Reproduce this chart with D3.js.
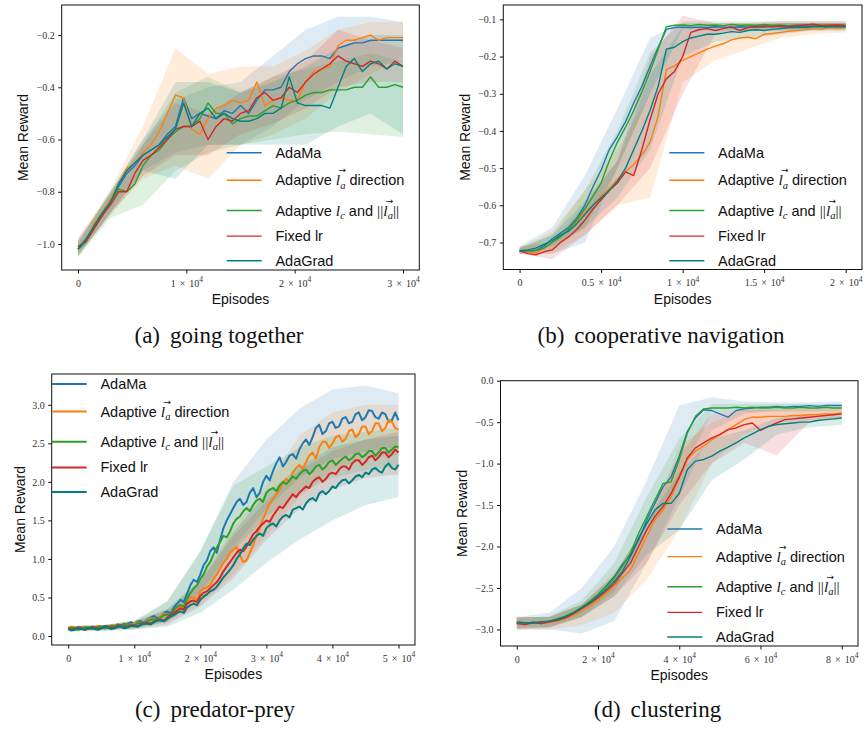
<!DOCTYPE html>
<html>
<head>
<meta charset="utf-8">
<script src="https://d3js.org/d3.v7.min.js"></script>
<style>
  body { margin: 0; background: #fff; }
</style>
</head>
<body>
<script>
// ---------- data ----------
// method colours, in legend order
const colors = ["#1f77b4", "#ff7f0e", "#2ca02c", "#d62728", "#008080"];

// legend labels, split in plain text and math parts
const legendLabels = [
  [{t: "AdaMa"}],
  [{t: "Adaptive "}, {m: "l", sub: "a", vec: true}, {t: " direction"}],
  [{t: "Adaptive "}, {m: "l", sub: "c"}, {t: " and "}, {m: "||"}, {m: "l", sub: "a", vec: true}, {m: "||"}],
  [{t: "Fixed lr"}],
  [{t: "AdaGrad"}]
];

// (a) going together: episodes 0..30000 every 750
const aStep = 750, aMax = 30000;
const aAdaMa     = [-1.02,-0.99,-0.93,-0.89,-0.84,-0.78,-0.73,-0.70,-0.66,-0.64,-0.62,-0.58,-0.55,-0.44,-0.52,-0.50,-0.51,-0.52,-0.49,-0.50,-0.47,-0.50,-0.45,-0.41,-0.41,-0.40,-0.34,-0.31,-0.29,-0.28,-0.28,-0.29,-0.25,-0.24,-0.23,-0.23,-0.22,-0.22,-0.22,-0.22,-0.22];
const aDirection = [-1.01,-0.99,-0.92,-0.88,-0.83,-0.77,-0.71,-0.69,-0.65,-0.62,-0.57,-0.50,-0.43,-0.44,-0.56,-0.58,-0.52,-0.48,-0.47,-0.45,-0.46,-0.45,-0.38,-0.47,-0.45,-0.44,-0.45,-0.45,-0.38,-0.34,-0.33,-0.32,-0.24,-0.22,-0.22,-0.21,-0.20,-0.22,-0.21,-0.21,-0.21];
const aMagnitude = [-1.02,-0.99,-0.94,-0.89,-0.84,-0.79,-0.80,-0.77,-0.70,-0.66,-0.64,-0.60,-0.57,-0.55,-0.55,-0.52,-0.46,-0.50,-0.50,-0.54,-0.52,-0.51,-0.51,-0.49,-0.47,-0.48,-0.46,-0.45,-0.43,-0.42,-0.42,-0.41,-0.41,-0.41,-0.40,-0.40,-0.36,-0.40,-0.40,-0.39,-0.40];
const aFixed     = [-1.01,-0.99,-0.94,-0.89,-0.85,-0.80,-0.80,-0.73,-0.68,-0.66,-0.63,-0.60,-0.56,-0.55,-0.55,-0.53,-0.60,-0.55,-0.52,-0.53,-0.50,-0.49,-0.44,-0.42,-0.45,-0.44,-0.40,-0.42,-0.38,-0.35,-0.33,-0.31,-0.28,-0.30,-0.31,-0.32,-0.30,-0.31,-0.33,-0.30,-0.32];
const aAdaGrad   = [-1.02,-0.98,-0.93,-0.88,-0.84,-0.77,-0.72,-0.69,-0.66,-0.64,-0.62,-0.59,-0.56,-0.46,-0.55,-0.50,-0.48,-0.52,-0.50,-0.52,-0.53,-0.53,-0.52,-0.50,-0.50,-0.48,-0.36,-0.46,-0.47,-0.47,-0.47,-0.48,-0.40,-0.32,-0.29,-0.34,-0.31,-0.30,-0.33,-0.31,-0.32];
// spread bands every 3000 episodes
const aBandStep = 3000;
const aLo = [
  [-1.04,-0.88,-0.72,-0.65,-0.62,-0.62,-0.55,-0.45,-0.38,-0.32,-0.30],
  [-1.05,-0.88,-0.75,-0.70,-0.75,-0.62,-0.58,-0.52,-0.42,-0.35,-0.28],
  [-1.05,-0.90,-0.85,-0.72,-0.65,-0.62,-0.60,-0.58,-0.57,-0.58,-0.59],
  [-1.04,-0.89,-0.74,-0.66,-0.66,-0.58,-0.54,-0.48,-0.40,-0.38,-0.38],
  [-1.05,-0.88,-0.72,-0.75,-0.62,-0.62,-0.62,-0.62,-0.55,-0.50,-0.58]
];
const aHi = [
  [-1.00,-0.80,-0.60,-0.45,-0.40,-0.38,-0.28,-0.18,-0.13,-0.13,-0.15],
  [-0.98,-0.79,-0.55,-0.25,-0.35,-0.32,-0.32,-0.26,-0.18,-0.15,-0.15],
  [-0.99,-0.80,-0.62,-0.42,-0.36,-0.42,-0.36,-0.33,-0.30,-0.27,-0.30],
  [-0.98,-0.81,-0.62,-0.46,-0.50,-0.42,-0.36,-0.30,-0.18,-0.22,-0.25],
  [-0.99,-0.80,-0.60,-0.38,-0.38,-0.42,-0.38,-0.32,-0.25,-0.20,-0.20]
];
const aXTicks = [0, 10000, 20000, 30000];
const aYTicks = [-1.0, -0.8, -0.6, -0.4, -0.2];

// (b) cooperative navigation: episodes 0..20000 every 500
const bStep = 500, bMax = 20000;
const bAdaMa     = [-0.722,-0.722,-0.721,-0.71,-0.69,-0.675,-0.66,-0.635,-0.60,-0.55,-0.505,-0.45,-0.415,-0.375,-0.325,-0.28,-0.227,-0.175,-0.127,-0.122,-0.121,-0.122,-0.121,-0.122,-0.120,-0.121,-0.122,-0.120,-0.121,-0.120,-0.121,-0.119,-0.120,-0.121,-0.119,-0.120,-0.118,-0.119,-0.120,-0.118,-0.119];
const bDirection = [-0.722,-0.725,-0.728,-0.715,-0.70,-0.685,-0.668,-0.645,-0.62,-0.60,-0.575,-0.555,-0.53,-0.51,-0.49,-0.465,-0.43,-0.36,-0.235,-0.225,-0.21,-0.20,-0.19,-0.18,-0.172,-0.165,-0.155,-0.15,-0.148,-0.152,-0.14,-0.138,-0.135,-0.132,-0.13,-0.128,-0.125,-0.127,-0.122,-0.124,-0.122];
const bMagnitude = [-0.722,-0.723,-0.722,-0.715,-0.70,-0.685,-0.665,-0.64,-0.61,-0.575,-0.54,-0.48,-0.43,-0.39,-0.345,-0.295,-0.24,-0.18,-0.12,-0.116,-0.115,-0.117,-0.114,-0.116,-0.115,-0.117,-0.114,-0.116,-0.115,-0.116,-0.114,-0.116,-0.115,-0.117,-0.115,-0.116,-0.114,-0.115,-0.116,-0.115,-0.116];
const bFixed     = [-0.722,-0.73,-0.733,-0.725,-0.72,-0.70,-0.685,-0.665,-0.64,-0.61,-0.585,-0.56,-0.54,-0.51,-0.52,-0.45,-0.37,-0.30,-0.26,-0.24,-0.20,-0.135,-0.128,-0.125,-0.13,-0.125,-0.12,-0.13,-0.122,-0.12,-0.118,-0.12,-0.118,-0.12,-0.117,-0.115,-0.113,-0.117,-0.116,-0.115,-0.117];
const bAdaGrad   = [-0.722,-0.72,-0.715,-0.705,-0.695,-0.68,-0.67,-0.65,-0.625,-0.60,-0.58,-0.56,-0.535,-0.50,-0.45,-0.40,-0.345,-0.28,-0.18,-0.175,-0.16,-0.15,-0.145,-0.14,-0.14,-0.137,-0.133,-0.135,-0.13,-0.128,-0.13,-0.127,-0.125,-0.123,-0.122,-0.122,-0.12,-0.12,-0.12,-0.12,-0.12];
const bBandStep = 2000;
const bLo = [
  [-0.73,-0.73,-0.70,-0.50,-0.30,-0.13,-0.13,-0.13,-0.13,-0.13,-0.13],
  [-0.73,-0.73,-0.68,-0.60,-0.58,-0.27,-0.21,-0.18,-0.15,-0.14,-0.135],
  [-0.73,-0.72,-0.66,-0.50,-0.30,-0.125,-0.125,-0.125,-0.125,-0.125,-0.125],
  [-0.73,-0.745,-0.68,-0.60,-0.50,-0.30,-0.14,-0.13,-0.13,-0.125,-0.125],
  [-0.73,-0.71,-0.66,-0.58,-0.45,-0.20,-0.16,-0.15,-0.14,-0.13,-0.13]
];
const bHi = [
  [-0.71,-0.66,-0.52,-0.34,-0.15,-0.11,-0.11,-0.11,-0.11,-0.11,-0.11],
  [-0.715,-0.67,-0.56,-0.45,-0.30,-0.13,-0.13,-0.12,-0.11,-0.11,-0.11],
  [-0.715,-0.68,-0.56,-0.40,-0.19,-0.105,-0.105,-0.105,-0.105,-0.105,-0.105],
  [-0.71,-0.70,-0.60,-0.48,-0.20,-0.09,-0.11,-0.11,-0.105,-0.105,-0.105],
  [-0.715,-0.68,-0.59,-0.48,-0.25,-0.12,-0.12,-0.115,-0.11,-0.11,-0.11]
];
const bXTicks = [0, 5000, 10000, 15000, 20000];
const bYTicks = [-0.7, -0.6, -0.5, -0.4, -0.3, -0.2, -0.1];

// (c) predator-prey: episodes 0..50000 every 500
const cStep = 500, cMax = 50000;
const cAdaMa = [
  0.10,0.08,0.09,0.11,0.11,0.09,0.10,0.12,0.12,0.10, 0.11,0.13,0.13,0.11,0.12,0.15,0.14,0.13,0.16,0.18,
  0.15,0.19,0.19,0.17,0.21,0.24,0.26,0.23,0.25,0.30, 0.32,0.29,0.37,0.42,0.47,0.44,0.55,0.66,0.73,0.70,
  0.80,0.92,0.98,1.10,1.15,1.08,1.25,1.40,1.50,1.58, 1.66,1.74,1.78,1.70,1.74,1.86,1.92,1.80,1.86,2.00,
  2.08,2.02,2.14,2.24,2.32,2.20,2.26,2.34,2.36,2.30, 2.42,2.50,2.55,2.48,2.58,2.70,2.74,2.62,2.66,2.76,
  2.78,2.70,2.72,2.82,2.84,2.76,2.78,2.88,2.90,2.80, 2.84,2.93,2.92,2.84,2.82,2.90,2.88,2.78,2.80,2.90, 2.80];
const cDirection = [
  0.10,0.12,0.11,0.09,0.10,0.12,0.12,0.10,0.11,0.13, 0.13,0.11,0.12,0.14,0.14,0.12,0.13,0.16,0.15,0.14,
  0.16,0.18,0.17,0.16,0.20,0.23,0.22,0.20,0.26,0.29, 0.28,0.26,0.33,0.36,0.38,0.36,0.46,0.50,0.50,0.47,
  0.58,0.62,0.63,0.66,0.74,0.80,0.88,0.95,1.00,1.08, 1.12,1.16,1.05,0.96,0.98,1.08,1.18,1.30,1.40,1.52,
  1.62,1.72,1.78,1.84,1.90,1.98,2.04,2.00,2.12,2.18, 2.22,2.16,2.26,2.34,2.38,2.30,2.45,2.52,2.52,2.44,
  2.50,2.58,2.60,2.52,2.56,2.66,2.68,2.58,2.62,2.72, 2.72,2.62,2.66,2.76,2.76,2.66,2.70,2.80,2.78,2.70, 2.68];
const cMagnitude = [
  0.09,0.11,0.10,0.08,0.09,0.11,0.11,0.09,0.10,0.12, 0.12,0.10,0.11,0.13,0.13,0.12,0.14,0.16,0.15,0.13,
  0.14,0.17,0.17,0.16,0.19,0.21,0.22,0.20,0.24,0.27, 0.28,0.27,0.34,0.38,0.40,0.38,0.48,0.56,0.62,0.66,
  0.74,0.80,0.90,0.96,1.06,1.15,1.22,1.30,1.28,1.36, 1.46,1.52,1.55,1.62,1.66,1.62,1.70,1.76,1.78,1.74,
  1.86,1.90,1.92,1.88,1.95,2.00,1.97,2.02,2.07,2.04, 2.10,2.14,2.16,2.10,2.14,2.20,2.22,2.16,2.20,2.26,
  2.28,2.22,2.26,2.30,2.33,2.28,2.31,2.36,2.37,2.32, 2.35,2.40,2.40,2.34,2.38,2.44,2.44,2.38,2.42,2.46, 2.45];
const cFixed = [
  0.10,0.08,0.09,0.11,0.10,0.08,0.09,0.11,0.11,0.09, 0.10,0.12,0.12,0.10,0.11,0.13,0.13,0.11,0.12,0.14,
  0.14,0.13,0.15,0.17,0.17,0.16,0.19,0.21,0.21,0.20, 0.24,0.27,0.30,0.33,0.36,0.34,0.42,0.45,0.46,0.44,
  0.52,0.56,0.58,0.62,0.66,0.70,0.76,0.84,0.90,0.96, 1.02,1.08,1.12,1.10,1.16,1.24,1.32,1.36,1.42,1.46,
  1.50,1.48,1.56,1.62,1.68,1.66,1.72,1.78,1.84,1.80, 1.86,1.90,1.94,1.92,2.00,2.04,2.06,2.00,2.04,2.10,
  2.12,2.10,2.16,2.20,2.20,2.16,2.24,2.28,2.28,2.22, 2.26,2.32,2.34,2.28,2.32,2.38,2.38,2.32,2.36,2.42, 2.38];
const cAdaGrad = [
  0.09,0.07,0.08,0.10,0.09,0.08,0.10,0.11,0.09,0.08, 0.10,0.12,0.11,0.09,0.10,0.12,0.12,0.10,0.11,0.13,
  0.13,0.12,0.14,0.16,0.16,0.15,0.18,0.20,0.20,0.19, 0.22,0.25,0.27,0.30,0.32,0.30,0.37,0.40,0.42,0.40,
  0.47,0.51,0.54,0.58,0.60,0.64,0.70,0.76,0.81,0.86, 0.92,1.00,1.06,1.14,1.20,1.18,1.25,1.30,1.33,1.30,
  1.40,1.44,1.46,1.42,1.50,1.55,1.57,1.54,1.64,1.66, 1.68,1.64,1.72,1.77,1.79,1.75,1.85,1.88,1.84,1.88,
  1.94,1.92,1.98,2.02,2.03,1.98,2.02,2.07,2.09,2.06, 2.12,2.10,2.16,2.18,2.14,2.12,2.20,2.24,2.18,2.16, 2.22];
const cBandStep = 5000;
const cLo = [
  [0.07,0.08,0.10,0.20,0.55,1.15,1.65,2.05,2.30,2.40,2.45],
  [0.07,0.08,0.10,0.18,0.40,0.80,1.30,1.80,2.15,2.30,2.35],
  [0.07,0.08,0.10,0.18,0.50,1.10,1.55,1.85,2.05,2.15,2.20],
  [0.07,0.07,0.09,0.15,0.38,0.75,1.25,1.65,1.90,2.05,2.10],
  [0.06,0.06,0.08,0.12,0.30,0.60,0.95,1.25,1.50,1.70,1.80]
];
const cHi = [
  [0.13,0.14,0.20,0.45,1.10,2.00,2.55,2.95,3.20,3.25,3.15],
  [0.13,0.14,0.20,0.35,0.75,1.40,1.95,2.60,2.90,3.00,3.00],
  [0.13,0.14,0.18,0.45,1.10,1.95,2.20,2.45,2.60,2.65,2.70],
  [0.13,0.13,0.19,0.32,0.70,1.30,1.75,2.15,2.40,2.55,2.65],
  [0.12,0.13,0.18,0.35,0.72,1.35,1.85,2.20,2.45,2.55,2.60]
];
const cXTicks = [0, 10000, 20000, 30000, 40000, 50000];
const cYTicks = [0.0, 0.5, 1.0, 1.5, 2.0, 2.5, 3.0];

// (d) clustering: episodes 0..80000 every 2000
const dStep = 2000, dMax = 80000;
const dAdaMa     = [-2.92,-2.94,-2.91,-2.93,-2.90,-2.88,-2.84,-2.80,-2.74,-2.67,-2.58,-2.48,-2.36,-2.22,-2.10,-1.92,-1.68,-1.48,-1.28,-1.16,-0.91,-0.61,-0.45,-0.35,-0.36,-0.40,-0.44,-0.36,-0.34,-0.33,-0.32,-0.32,-0.31,-0.32,-0.31,-0.31,-0.30,-0.31,-0.30,-0.30,-0.30];
const dDirection = [-2.92,-2.93,-2.92,-2.92,-2.91,-2.90,-2.87,-2.83,-2.78,-2.72,-2.65,-2.57,-2.48,-2.38,-2.28,-2.08,-1.88,-1.68,-1.56,-1.40,-1.18,-0.95,-0.85,-0.79,-0.71,-0.65,-0.59,-0.53,-0.47,-0.44,-0.44,-0.43,-0.43,-0.43,-0.42,-0.42,-0.41,-0.41,-0.40,-0.40,-0.39];
const dMagnitude = [-2.92,-2.93,-2.92,-2.91,-2.90,-2.87,-2.84,-2.79,-2.73,-2.66,-2.58,-2.49,-2.38,-2.24,-2.08,-1.84,-1.64,-1.44,-1.24,-1.22,-0.95,-0.63,-0.43,-0.34,-0.33,-0.33,-0.33,-0.32,-0.33,-0.32,-0.33,-0.33,-0.32,-0.33,-0.33,-0.32,-0.33,-0.33,-0.32,-0.33,-0.33];
const dFixed     = [-2.93,-2.94,-2.92,-2.93,-2.91,-2.89,-2.86,-2.81,-2.75,-2.69,-2.62,-2.54,-2.45,-2.32,-2.20,-2.00,-1.80,-1.64,-1.52,-1.36,-1.16,-0.93,-0.81,-0.75,-0.69,-0.65,-0.59,-0.57,-0.53,-0.51,-0.60,-0.55,-0.51,-0.47,-0.46,-0.45,-0.44,-0.43,-0.42,-0.41,-0.40];
const dAdaGrad   = [-2.91,-2.92,-2.92,-2.91,-2.90,-2.88,-2.85,-2.80,-2.74,-2.68,-2.60,-2.52,-2.42,-2.30,-2.12,-1.90,-1.72,-1.56,-1.48,-1.48,-1.36,-1.07,-0.97,-0.95,-0.91,-0.85,-0.80,-0.75,-0.69,-0.64,-0.59,-0.55,-0.53,-0.52,-0.51,-0.50,-0.50,-0.48,-0.47,-0.46,-0.45];
const dBandStep = 8000;
const dLo = [
  [-3.00,-3.00,-3.05,-2.90,-2.20,-1.40,-0.60,-0.40,-0.36,-0.36,-0.35],
  [-3.00,-3.00,-2.95,-2.80,-2.40,-1.80,-1.00,-0.65,-0.50,-0.48,-0.46],
  [-2.98,-2.97,-2.85,-2.55,-1.80,-1.20,-0.38,-0.37,-0.37,-0.37,-0.37],
  [-3.00,-2.98,-2.85,-2.60,-2.20,-1.50,-1.00,-0.75,-0.90,-0.50,-0.46],
  [-2.98,-2.97,-2.85,-2.60,-2.10,-1.80,-1.20,-0.95,-0.65,-0.56,-0.53]
];
const dHi = [
  [-2.85,-2.80,-2.50,-2.00,-1.20,-0.30,-0.20,-0.25,-0.26,-0.26,-0.25],
  [-2.85,-2.85,-2.70,-2.30,-1.80,-0.80,-0.50,-0.35,-0.34,-0.33,-0.32],
  [-2.86,-2.84,-2.65,-2.20,-1.40,-0.70,-0.28,-0.28,-0.28,-0.28,-0.28],
  [-2.85,-2.85,-2.70,-2.35,-1.70,-0.90,-0.40,-0.35,-0.35,-0.35,-0.35],
  [-2.86,-2.85,-2.70,-2.35,-1.70,-1.10,-0.70,-0.60,-0.45,-0.40,-0.40]
];
const dXTicks = [0, 20000, 40000, 60000, 80000];
const dYTicks = [-3.0, -2.5, -2.0, -1.5, -1.0, -0.5, 0.0];

// ---------- layout ----------
const panels = [
  {key: "a", box: [61.7, 5, 419.3, 270], xDomain: [-1500, 31500], yDomain: [-1.0995, -0.085],
   xs: d3.range(0, aMax + 1, aStep), series: [aAdaMa, aDirection, aMagnitude, aFixed, aAdaGrad],
   bandX: d3.range(0, aMax + 1, aBandStep), lo: aLo, hi: aHi, xTicks: aXTicks, yTicks: aYTicks,
   legend: [226.7, 152.7], lw: 1.4, caption: ["(a)", "going together"], capPos: [219, 343], ylabelX: 28},
  {key: "b", box: [503.3, 5, 862, 269.5], xDomain: [-1000, 21000], yDomain: [-0.7726, -0.0614],
   xs: d3.range(0, bMax + 1, bStep), series: [bAdaMa, bDirection, bMagnitude, bFixed, bAdaGrad],
   bandX: d3.range(0, bMax + 1, bBandStep), lo: bLo, hi: bHi, xTicks: bXTicks, yTicks: bYTicks,
   legend: [669.3, 152.7], lw: 1.4, caption: ["(b)", "cooperative navigation"], capPos: [661, 343], ylabelX: 470},
  {key: "c", box: [51.7, 374, 415, 645], xDomain: [-2500, 52500], yDomain: [-0.117, 3.40],
   xs: d3.range(0, cMax + 1, cStep), series: [cAdaMa, cDirection, cMagnitude, cFixed, cAdaGrad],
   bandX: d3.range(0, cMax + 1, cBandStep), lo: cLo, hi: cHi, xTicks: cXTicks, yTicks: cYTicks,
   legend: [51.7, 384], lw: 2, caption: ["(c)", "predator-prey"], capPos: [215, 717], ylabelX: 25},
  {key: "d", box: [500.5, 380.7, 858, 646], xDomain: [-4000, 84000], yDomain: [-3.2, 0.0],
   xs: d3.range(0, dMax + 1, dStep), series: [dAdaMa, dDirection, dMagnitude, dFixed, dAdaGrad],
   bandX: d3.range(0, dMax + 1, dBandStep), lo: dLo, hi: dHi, xTicks: dXTicks, yTicks: dYTicks,
   legend: [667.3, 529], lw: 1.4, caption: ["(d)", "clustering"], capPos: [657.5, 717], ylabelX: 466.7}
];
const legendRows = [0, 27.6, 57.8, 83.4, 108];

const svg = d3.select("body").append("svg")
    .attr("width", 865)
    .attr("height", 729);

function drawLegendLabel(g, parts, tx, ty) {
  const text = g.append("text")
      .attr("x", tx).attr("y", ty)
      .attr("font-family", "Liberation Sans, Arial, sans-serif")
      .attr("font-size", 14.5)
      .attr("fill", "#111");
  let idx = 0, shift = 0;
  const vecs = [];
  parts.forEach(function(p) {
    if (p.t !== undefined) {
      text.append("tspan").attr("dy", -shift).text(p.t);
      shift = 0; idx += p.t.length;
    } else {
      text.append("tspan").attr("dy", -shift)
          .attr("font-family", "Liberation Serif, serif")
          .attr("font-size", 15.5)
          .attr("font-style", p.sub ? "italic" : "normal")
          .text(p.m);
      shift = 0;
      const start = idx;
      idx += p.m.length;
      if (p.sub) {
        text.append("tspan").attr("dy", 3.5)
            .attr("font-family", "Liberation Serif, serif")
            .attr("font-style", "italic")
            .attr("font-size", 10.5)
            .text(p.sub);
        shift = 3.5;
        idx += p.sub.length;
      }
      if (p.vec) vecs.push([start, idx - 1]);
    }
  });
  const node = text.node();
  vecs.forEach(function(v) {
    const a = node.getStartPositionOfChar(v[0]);
    const b = node.getEndPositionOfChar(v[1]);
    g.append("text")
        .attr("x", (a.x + b.x) / 2 + 1.5)
        .attr("y", ty - 12)
        .attr("text-anchor", "middle")
        .attr("font-family", "DejaVu Sans, sans-serif")
        .attr("font-size", 9)
        .attr("fill", "#111")
        .text("\u2192");
  });
}

function drawPanel(p) {
  const [L, T, R, B] = p.box;
  const x = d3.scaleLinear().domain(p.xDomain).range([L, R]);
  const y = d3.scaleLinear().domain(p.yDomain).range([B, T]);
  const g = svg.append("g");

  g.append("clipPath").attr("id", "clip-" + p.key)
    .append("rect").attr("x", L).attr("y", T).attr("width", R - L).attr("height", B - T);
  const plot = g.append("g").attr("clip-path", "url(#clip-" + p.key + ")");

  // shaded spread
  p.lo.forEach(function(lo, i) {
    const area = d3.area()
        .x(function(d, j) { return x(p.bandX[j]); })
        .y0(function(d) { return y(d[0]); })
        .y1(function(d) { return y(d[1]); });
    plot.append("path")
        .datum(d3.zip(lo, p.hi[i]))
        .attr("d", area)
        .attr("fill", colors[i])
        .attr("fill-opacity", 0.15);
  });

  // mean curves
  p.series.forEach(function(vals, i) {
    const line = d3.line()
        .x(function(d, j) { return x(p.xs[j]); })
        .y(function(d) { return y(d); });
    plot.append("path")
        .datum(vals)
        .attr("d", line)
        .attr("fill", "none")
        .attr("stroke", colors[i])
        .attr("stroke-width", p.lw)
        .attr("stroke-linejoin", "round");
  });

  // y axis
  const ya = g.append("g")
      .attr("transform", "translate(" + L + ",0)")
      .call(d3.axisLeft(y).tickValues(p.yTicks).tickSize(3.5).tickPadding(3.5).tickFormat(d3.format(".1f")));
  ya.select(".domain").remove();
  ya.selectAll("line").attr("stroke", "#111");
  ya.selectAll("text")
      .attr("font-family", "Liberation Serif, serif")
      .attr("font-size", 10)
      .attr("fill", "#333");

  // x axis, labels like 1 x 10^4
  const xa = g.append("g")
      .attr("transform", "translate(0," + B + ")")
      .call(d3.axisBottom(x).tickValues(p.xTicks).tickSize(3.5).tickFormat(""));
  xa.select(".domain").remove();
  xa.selectAll("line").attr("stroke", "#111");
  xa.selectAll(".tick").each(function(v) {
    const t = d3.select(this).append("text")
        .attr("y", 16.5)
        .attr("text-anchor", "middle")
        .attr("font-family", "Liberation Serif, serif")
        .attr("font-size", 10)
        .attr("fill", "#333");
    if (v === 0) {
      t.text("0");
    } else {
      t.append("tspan").text(d3.format("~g")(v / 1e4));
      t.append("tspan").attr("dx", 4).text("\u00d7");
      t.append("tspan").attr("dx", 4).text("10");
      t.append("tspan").attr("dy", -4.5).attr("font-size", 7.5).text("4");
    }
  });

  // frame
  g.append("rect")
      .attr("x", L).attr("y", T)
      .attr("width", R - L).attr("height", B - T)
      .attr("fill", "none")
      .attr("stroke", "#111")
      .attr("stroke-width", 1);

  // axis titles
  g.append("text")
      .attr("x", (L + R) / 2).attr("y", B + 34)
      .attr("text-anchor", "middle")
      .attr("font-family", "Liberation Sans, Arial, sans-serif")
      .attr("font-size", 14)
      .attr("fill", "#111")
      .text("Episodes");
  g.append("text")
      .attr("transform", "translate(" + p.ylabelX + "," + (T + B) / 2 + ") rotate(-90)")
      .attr("text-anchor", "middle")
      .attr("font-family", "Liberation Sans, Arial, sans-serif")
      .attr("font-size", 14)
      .attr("fill", "#111")
      .text("Mean Reward");

  // legend
  const lg = g.append("g");
  legendLabels.forEach(function(parts, i) {
    const ly = p.legend[1] + legendRows[i];
    lg.append("line")
        .attr("x1", p.legend[0]).attr("x2", p.legend[0] + 35)
        .attr("y1", ly).attr("y2", ly)
        .attr("stroke", colors[i])
        .attr("stroke-width", p.lw);
    drawLegendLabel(lg, parts, p.legend[0] + 48.7, ly + 5);
  });

  // caption
  const cap = svg.append("text")
      .attr("x", p.capPos[0]).attr("y", p.capPos[1])
      .attr("text-anchor", "middle")
      .attr("font-family", "Liberation Serif, 'Times New Roman', serif")
      .attr("font-size", 23)
      .attr("fill", "#111");
  cap.append("tspan").text(p.caption[0]);
  cap.append("tspan").attr("dx", 10).text(p.caption[1]);
}

panels.forEach(drawPanel);
</script>
</body>
</html>
